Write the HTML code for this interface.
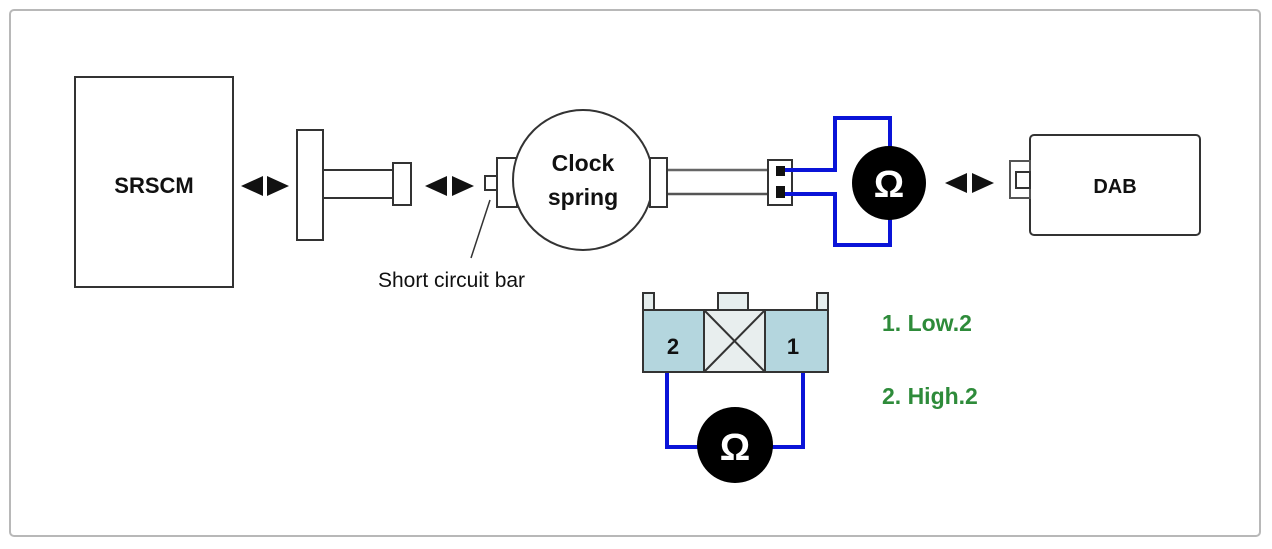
<!DOCTYPE html>
<html><head><style>
body{margin:0;background:#fff;}
svg{display:block;font-family:"Liberation Sans",Arial,sans-serif;}
</style></head><body>
<svg width="1272" height="549" viewBox="0 0 1272 549" xmlns="http://www.w3.org/2000/svg">
<rect x="10" y="10" width="1250" height="526" rx="4" fill="#fff" stroke="#b8b8b8" stroke-width="2"/>
<!-- SRSCM -->
<rect x="75" y="77" width="158" height="210" fill="#fff" stroke="#333" stroke-width="2"/>
<text x="154" y="193" font-size="22" font-weight="bold" text-anchor="middle" fill="#111">SRSCM</text>
<!-- arrows -->
<g fill="#111">
<polygon points="241,186 263,176 263,196"/><polygon points="289,186 267,176 267,196"/>
<polygon points="425,186 447,176 447,196"/><polygon points="474,186 452,176 452,196"/>
<polygon points="945,183 967,173 967,193"/><polygon points="994,183 972,173 972,193"/>
</g>
<!-- big connector -->
<g fill="#fff" stroke="#333" stroke-width="2">
<rect x="297" y="130" width="26" height="110"/>
<rect x="323" y="170" width="70" height="28"/>
<rect x="393" y="163" width="18" height="42"/>
<rect x="485" y="176" width="12" height="14"/>
<rect x="497" y="158" width="20" height="49"/>
<line x1="667" y1="170" x2="768" y2="170" stroke="#666" stroke-width="2.5"/>
<line x1="667" y1="194" x2="768" y2="194" stroke="#555" stroke-width="2.5"/>
<circle cx="583" cy="180" r="70"/>
<rect x="650" y="158" width="17" height="49"/>
<rect x="768" y="160" width="24" height="45"/>
</g>
<rect x="776" y="166" width="9" height="10" fill="#111"/>
<rect x="776" y="186" width="9" height="12" fill="#111"/>
<line x1="490" y1="200" x2="471" y2="258" stroke="#333" stroke-width="1.5"/>
<text x="583" y="171" font-size="23" font-weight="bold" text-anchor="middle" fill="#111">Clock</text>
<text x="583" y="205" font-size="23" font-weight="bold" text-anchor="middle" fill="#111">spring</text>
<text x="378" y="287" font-size="21" fill="#111">Short circuit bar</text>
<!-- blue -->
<g fill="none" stroke="#0a14d8" stroke-width="4">
<polyline points="785,170 835,170 835,118 890,118 890,150"/>
<polyline points="785,194 835,194 835,245 890,245 890,215"/>
<polyline points="667,365 667,447 700,447"/>
<polyline points="803,365 803,447 770,447"/>
</g>
<circle cx="889" cy="183" r="37" fill="#000"/>
<text x="889" y="197" font-size="38" font-weight="bold" text-anchor="middle" fill="#fff">Ω</text>
<!-- DAB -->
<rect x="1030" y="135" width="170" height="100" rx="4" fill="#fff" stroke="#333" stroke-width="2"/>
<rect x="1010" y="161" width="20" height="37" fill="#fff" stroke="#555" stroke-width="2"/>
<rect x="1016" y="172" width="14" height="16" fill="#fff" stroke="#333" stroke-width="2"/>
<text x="1115" y="193" font-size="20" font-weight="bold" text-anchor="middle" fill="#111">DAB</text>
<!-- bottom connector -->
<g stroke="#333" stroke-width="2">
<rect x="643" y="293" width="11" height="17" fill="#e6eeee"/>
<rect x="817" y="293" width="11" height="17" fill="#e6eeee"/>
<rect x="718" y="293" width="30" height="17" fill="#e6eeee"/>
<rect x="643" y="310" width="185" height="62" fill="#b4d6de"/>
<rect x="704" y="310" width="61" height="62" fill="#e8eeee"/>
<line x1="704" y1="310" x2="765" y2="372"/><line x1="765" y1="310" x2="704" y2="372"/>
</g>
<text x="673" y="354" font-size="22" font-weight="bold" text-anchor="middle" fill="#111">2</text>
<text x="793" y="354" font-size="22" font-weight="bold" text-anchor="middle" fill="#111">1</text>
<circle cx="735" cy="445" r="38" fill="#000"/>
<text x="735" y="460" font-size="38" font-weight="bold" text-anchor="middle" fill="#fff">Ω</text>
<text x="882" y="331" font-size="23" font-weight="bold" fill="#2e8b3a">1. Low.2</text>
<text x="882" y="404" font-size="23" font-weight="bold" fill="#2e8b3a">2. High.2</text>
</svg>
</body></html>
